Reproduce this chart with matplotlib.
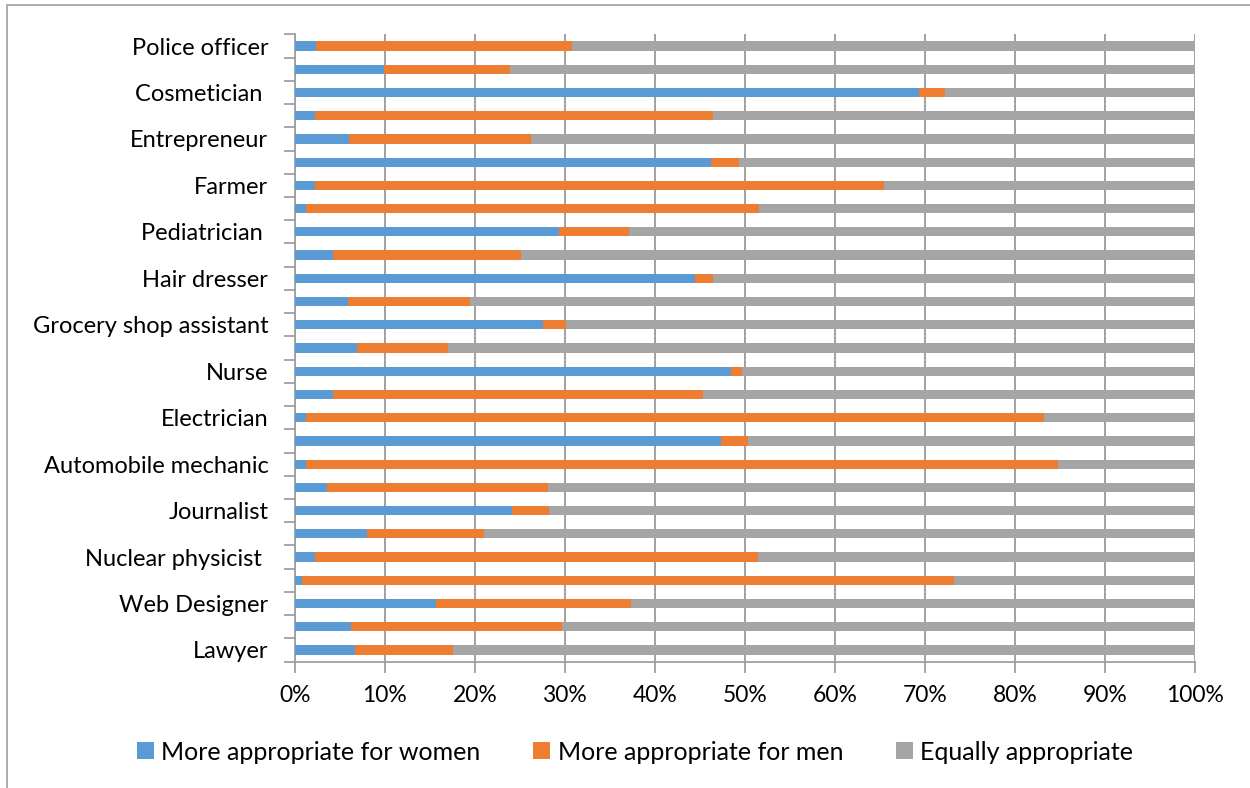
import matplotlib
matplotlib.use("Agg")
import matplotlib.pyplot as plt
from matplotlib.patches import Patch, Rectangle
import numpy as np

plt.rcParams['font.family'] = ['Lato', 'DejaVu Sans']

categories = [
    "Police officer", "", "Cosmetician ", "", "Entrepreneur", "", "Farmer", "",
    "Pediatrician ", "", "Hair dresser", "", "Grocery shop assistant", "",
    "Nurse", "", "Electrician", "", "Automobile mechanic", "", "Journalist", "",
    "Nuclear physicist ", "", "Web Designer", "", "Lawyer",
]
women = [2.4, 9.9, 69.3, 2.2, 6.0, 46.2, 2.2, 1.2, 29.4, 4.3, 44.5, 5.9, 27.6, 6.9,
         48.5, 4.2, 1.2, 47.4, 1.2, 3.6, 24.1, 8.0, 2.3, 0.8, 15.7, 6.3, 6.7]
men = [28.4, 14.0, 2.9, 44.3, 20.3, 3.2, 63.3, 50.4, 7.7, 20.8, 2.0, 13.6, 2.5, 10.1,
       1.2, 41.1, 82.0, 2.9, 83.6, 24.5, 4.2, 13.0, 49.2, 72.4, 21.6, 23.4, 10.9]
equal = [69.2, 76.1, 27.8, 53.5, 73.7, 50.6, 34.5, 48.4, 62.9, 74.9, 53.5, 80.5, 69.9, 83.0,
         50.3, 54.7, 16.8, 49.7, 15.2, 71.9, 71.7, 79.0, 48.5, 26.8, 62.7, 70.3, 82.4]
series_names = ["More appropriate for women", "More appropriate for men", "Equally appropriate"]
colors = ["#5B9BD5", "#ED7D31", "#A5A5A5"]
xticks = [0, 10, 20, 30, 40, 50, 60, 70, 80, 90, 100]
xticklabels = [f"{t}%" for t in xticks]

fig = plt.figure(figsize=(12.5, 7.88), dpi=100)
ax = fig.add_axes([294.7/1250, 1-661.6/788, (1195-294.7)/1250, (661.6-34.4)/788])

y = np.arange(len(categories))
left = np.zeros(len(categories))
for vals, c, name in zip([women, men, equal], colors, series_names):
    v = np.array(vals, dtype=float)
    ax.barh(y, v, left=left, height=0.4, color=c, label=name, zorder=3,
            edgecolor='none')
    left += v

ax.set_ylim(len(categories)-0.5, -0.5)
ax.set_xlim(0, 100)
ax.set_xticks(xticks)
ax.set_xticklabels(xticklabels, fontsize=16.5)
ax.set_yticks(y)
ax.set_yticklabels(categories, fontsize=17)
ax.set_yticks(np.arange(-0.5, len(categories), 1), minor=True)
ax.tick_params(axis='y', which='major', length=0, pad=19)
ax.tick_params(axis='y', which='minor', length=8, width=1.3, color='#a0a0a0')
ax.tick_params(axis='x', which='major', length=8, width=1.3, color='#a0a0a0', pad=9)

ax.grid(axis='x', color='#9a9a9a', linewidth=1.3, zorder=0)
for s in ['top', 'right']:
    ax.spines[s].set_visible(False)
for s in ['left', 'bottom']:
    ax.spines[s].set_color('#a0a0a0')
    ax.spines[s].set_linewidth(1.3)

handles = [Patch(facecolor=c, edgecolor='none') for c in colors]
fig.legend(handles, series_names, loc='center', bbox_to_anchor=(0.508, 1-752/788),
           ncol=3, frameon=False, fontsize=18, handlelength=0.68, handleheight=0.68,
           handletextpad=0.3, columnspacing=2.1)

fig.patches.append(Rectangle((7/1250, -0.05), 1.2, 1-5/788+0.05, transform=fig.transFigure,
                             fill=False, edgecolor='#a6a6a6', linewidth=1.3))

fig.savefig("out.png", dpi=100)
